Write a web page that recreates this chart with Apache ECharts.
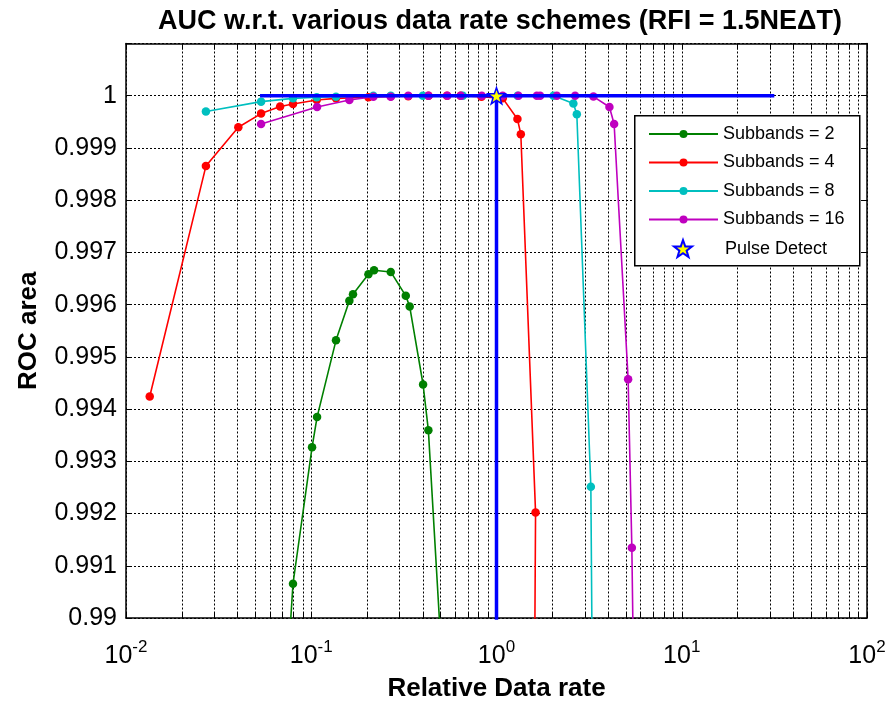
<!DOCTYPE html>
<html>
<head>
<meta charset="utf-8">
<script src="https://cdn.jsdelivr.net/npm/echarts@6/dist/echarts.min.js"></script>
<style>
  html, body { margin: 0; padding: 0; background: #ffffff; }
  #chart { width: 889px; height: 707px; }
</style>
</head>
<body>
<div id="chart"></div>
<script>
// ROC area against relative data rate, one curve per subband count.
// Points just outside the value range continue the curves past the frame.
const rate2 = [0.0714, 0.0797, 0.101, 0.1075, 0.136, 0.1606, 0.168, 0.2035, 0.2183, 0.2687, 0.3238, 0.340, 0.4015, 0.4288, 0.530];
const auc2  = [0.9880, 0.990656, 0.993269, 0.993847, 0.995316, 0.996073, 0.996199, 0.996580, 0.996657, 0.996626, 0.996168, 0.995964, 0.994471, 0.993593, 0.9880];

const rate4 = [0.01343, 0.0270, 0.0404, 0.0536, 0.0679, 0.0797, 0.107, 0.136, 0.2035, 0.2687, 0.334, 0.43, 0.54, 0.64, 0.83, 1.081, 1.297, 1.353, 1.625, 1.60];
const auc4  = [0.994242, 0.998653, 0.999397, 0.999658, 0.999792, 0.999842, 0.999918, 0.99995, 0.99997, 0.99999, 0.99999, 1.0, 1.0, 1.0, 0.99998, 0.99995, 0.999555, 0.999264, 0.992022, 0.9880];

const rate8 = [0.0270, 0.0536, 0.0797, 0.107, 0.136, 0.2164, 0.2687, 0.40, 0.658, 1.30, 2.03, 2.60, 2.714, 3.231, 3.303];
const auc8  = [0.999697, 0.999887, 0.99995, 0.99997, 0.99998, 1.0, 1.0, 1.0, 1.0, 1.0, 1.0, 0.999849, 0.999645, 0.992512, 0.9880];

const rate16 = [0.0536, 0.1075, 0.1606, 0.2164, 0.2687, 0.334, 0.4288, 0.543, 0.642, 0.833, 1.08, 1.313, 1.651, 1.72, 2.117, 2.657, 3.336, 4.07, 4.315, 5.135, 5.378, 5.54];
const auc16  = [0.99946, 0.999784, 0.999918, 0.99998, 0.99998, 1.0, 1.0, 1.0, 1.0, 1.0, 1.0, 1.0, 1.0, 1.0, 1.0, 1.0, 0.999983, 0.999784, 0.99946, 0.994572, 0.991343, 0.9880];

// Pulse detection operating point and its guide lines
const pulseRate = [1.0];
const pulseAuc = [1.0];
const pulseLevelRate = [0.0529, 31.6];
const pulseLevelAuc = [1.0, 1.0];
const pulseDropRate = [1.0, 1.0];
const pulseDropAuc = [1.0, 0.9880];

// Axis ticks
const xMajorTicks = [0.01, 0.1, 1, 10, 100];
const xMinorSteps = [1, 2, 3, 4, 5, 6, 7, 8, 9];
const yMin = 0.99, yMax = 1.001, yStep = 0.001;

const seriesNames = ['Subbands = 2', 'Subbands = 4', 'Subbands = 8', 'Subbands = 16'];
const seriesColors = ['#008000', '#ff0000', '#00bfbf', '#bf00bf'];

const FONT = 'Liberation Sans, Arial, Helvetica, sans-serif';

function pairs(xs, ys) {
  return xs.map((x, i) => [x, ys[i]]);
}

// every decade step 1..9, used for the log grid and ticks
const xAllTicks = [];
xMajorTicks.slice(0, -1).forEach(d => {
  xMinorSteps.forEach(k => xAllTicks.push(+(d * k).toPrecision(6)));
});
xAllTicks.push(xMajorTicks[xMajorTicks.length - 1]);

// five-pointed star marker
function starPath() {
  const pts = [];
  for (let i = 0; i < 10; i++) {
    const r = i % 2 === 0 ? 50 : 20;
    const a = -Math.PI / 2 + i * Math.PI / 5;
    pts.push((50 + r * Math.cos(a)).toFixed(2) + ' ' + (50 + r * Math.sin(a)).toFixed(2));
  }
  return 'path://M' + pts.join(' L') + ' Z';
}
const STAR = starPath();

const gridLine = { show: true, lineStyle: { color: '#000', width: 1, type: [2, 2] } };

const chart = echarts.init(document.getElementById('chart'), null, { renderer: 'canvas' });

const dataSets = [[rate2, auc2], [rate4, auc4], [rate8, auc8], [rate16, auc16]];

const curveSeries = dataSets.map((d, i) => ({
  name: seriesNames[i],
  type: 'line',
  data: pairs(d[0], d[1]),
  symbol: 'circle',
  symbolSize: 8.5,
  showSymbol: true,
  clip: true,
  color: seriesColors[i],
  lineStyle: { width: 1.6, color: seriesColors[i] },
  itemStyle: { color: seriesColors[i] },
  z: 2 + i * 0.1,
  animation: false
}));

chart.setOption({
  animation: false,
  backgroundColor: '#ffffff',
  title: {
    text: 'AUC w.r.t. various data rate schemes (RFI = 1.5NE\u0394T)',
    left: 495,
    textAlign: 'center',
    top: 3,
    textStyle: { fontFamily: FONT, fontSize: 27, fontWeight: 'bold', color: '#000' }
  },
  grid: { left: 126, right: 22, top: 43.5, bottom: 85, containLabel: false },
  xAxis: [{
    type: 'log',
    logBase: 10,
    min: 0.01,
    max: 100,
    position: 'bottom',
    name: 'Relative Data rate',
    nameLocation: 'middle',
    nameGap: 58,
    nameTextStyle: { fontFamily: FONT, fontSize: 26, fontWeight: 'bold', color: '#000' },
    axisLine: { show: true, onZero: false, lineStyle: { color: '#000', width: 1.5 } },
    axisTick: { show: true, inside: true, length: 6, customValues: xAllTicks, lineStyle: { color: '#000', width: 1 } },
    splitLine: gridLine,
    minorTick: { show: false },
    axisLabel: {
      customValues: xMajorTicks,
      margin: 21,
      formatter: v => '{b|10}{s|' + Math.round(Math.log10(v)) + '}',
      rich: {
        b: { fontFamily: FONT, fontSize: 25, color: '#000', lineHeight: 30, verticalAlign: 'bottom' },
        s: { fontFamily: FONT, fontSize: 17, color: '#000', lineHeight: 18, verticalAlign: 'top' }
      }
    }
  }, {
    type: 'log',
    logBase: 10,
    min: 0.01,
    max: 100,
    position: 'top',
    axisLine: { show: true, onZero: false, lineStyle: { color: '#000', width: 1.5 } },
    axisTick: { show: true, inside: true, length: 6, customValues: xAllTicks, lineStyle: { color: '#000', width: 1 } },
    splitLine: { show: false },
    axisLabel: { show: false }
  }],
  yAxis: [{
    type: 'value',
    min: yMin,
    max: yMax,
    interval: yStep,
    position: 'left',
    name: 'ROC area',
    nameLocation: 'middle',
    nameGap: 84,
    nameRotate: 90,
    nameTextStyle: { fontFamily: FONT, fontSize: 26, fontWeight: 'bold', color: '#000' },
    axisLine: { show: true, onZero: false, lineStyle: { color: '#000', width: 1.5 } },
    axisTick: { show: true, inside: true, length: 6, lineStyle: { color: '#000', width: 1 } },
    splitLine: gridLine,
    axisLabel: {
      margin: 9,
      fontFamily: FONT,
      fontSize: 25,
      color: '#000',
      formatter: v => (v > 1.0005 ? '' : String(+v.toFixed(3)))
    }
  }, {
    type: 'value',
    min: yMin,
    max: yMax,
    interval: yStep,
    position: 'right',
    axisLine: { show: true, onZero: false, lineStyle: { color: '#000', width: 1.5 } },
    axisTick: { show: true, inside: true, length: 6, lineStyle: { color: '#000', width: 1 } },
    splitLine: { show: false },
    axisLabel: { show: false }
  }],
  graphic: [{
    type: 'rect',
    left: 634,
    top: 115,
    shape: { width: 225, height: 150 },
    style: { fill: '#ffffff', stroke: '#000000', lineWidth: 1.5 },
    z: 20
  }],
  legend: [{
    data: seriesNames,
    orient: 'vertical',
    left: 648,
    top: 125,
    itemWidth: 69,
    itemHeight: 10,
    itemGap: 10.5,
    padding: 0,
    z: 30,
    textStyle: { fontFamily: FONT, fontSize: 18, color: '#000' },
    selectedMode: false
  }, {
    data: [{ name: 'Pulse Detect', icon: STAR }],
    orient: 'vertical',
    left: 673,
    top: 239,
    itemWidth: 18,
    itemHeight: 18,
    padding: 0,
    z: 30,
    textStyle: { fontFamily: FONT, fontSize: 18, color: '#000', padding: [0, 0, 0, 28] },
    selectedMode: false
  }],
  series: curveSeries.concat([{
    name: 'Pulse Detect level',
    type: 'line',
    data: pairs(pulseLevelRate, pulseLevelAuc),
    symbol: 'none',
    clip: true,
    lineStyle: { color: '#0000ff', width: 3.5 },
    z: 4
  }, {
    name: 'Pulse Detect rate',
    type: 'line',
    data: pairs(pulseDropRate, pulseDropAuc),
    symbol: 'none',
    clip: true,
    lineStyle: { color: '#0000ff', width: 3.5 },
    z: 4
  }, {
    name: 'Pulse Detect',
    type: 'scatter',
    data: pairs(pulseRate, pulseAuc),
    symbol: STAR,
    symbolSize: 17,
    symbolKeepAspect: true,
    itemStyle: { color: '#ffff00', borderColor: '#0000ff', borderWidth: 1.5, opacity: 1 },
    z: 5
  }])
});
</script>
</body>
</html>
